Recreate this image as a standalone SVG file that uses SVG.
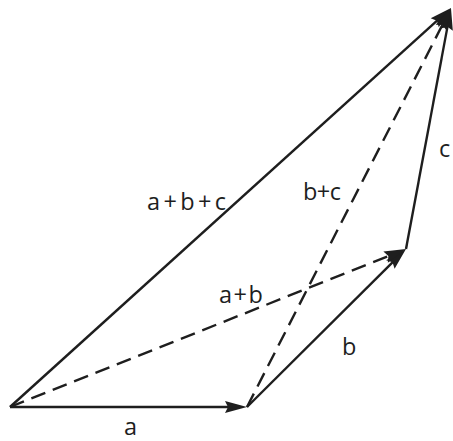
<svg xmlns="http://www.w3.org/2000/svg" width="453" height="441" viewBox="0 0 453 441">
  <style>
    .v { fill: none; stroke: #1e1e1e; stroke-width: 2.4; stroke-linecap: butt; }
    .d { stroke-dasharray: 15 8; }
    .lbl { font-family: "Open Sans", "Liberation Sans", sans-serif; font-size: 23.5px; fill: #1e1e1e; }
  </style>
  <defs>
    <marker id="arr" markerUnits="userSpaceOnUse" markerWidth="24" markerHeight="14" refX="14" refY="6" orient="auto" overflow="visible">
      <path d="M0,0 L22,6 L0,12 L3,6 z" fill="#1e1e1e" stroke="none"/>
    </marker>
  </defs>
  <rect width="453" height="441" fill="#ffffff"/>
  <g id="connectors">
    <path id="a" class="v" d="M10,407 L239,407" marker-end="url(#arr)"/>
    <path id="b" class="v" d="M247,407 L400.3,254.6" marker-end="url(#arr)"/>
    <path id="c" class="v" d="M406,249 L449.5,15.9" marker-end="url(#arr)"/>
    <path id="abc" class="v" d="M10,407 L445.1,13.4" marker-end="url(#arr)"/>
    <path id="ab" class="v d" d="M10,407 L398.6,252" marker-end="url(#arr)"/>
    <path id="bc" class="v d" d="M247,407 L447.4,15.1" marker-end="url(#arr)"/>
  </g>
  <g id="labels">
    <g id="label-a"><text class="lbl" x="124" y="435">a</text></g>
    <g id="label-b"><text class="lbl" x="342" y="355">b</text></g>
    <g id="label-c"><text class="lbl" x="439" y="157">c</text></g>
    <g id="label-ab"><text class="lbl" x="219" y="303" textLength="44" lengthAdjust="spacing">a+b</text></g>
    <g id="label-bc"><text class="lbl" x="303" y="200" textLength="38" lengthAdjust="spacing">b+c</text></g>
    <g id="label-abc"><text class="lbl" x="147" y="210" textLength="79" lengthAdjust="spacing">a+b+c</text></g>
  </g>
</svg>
